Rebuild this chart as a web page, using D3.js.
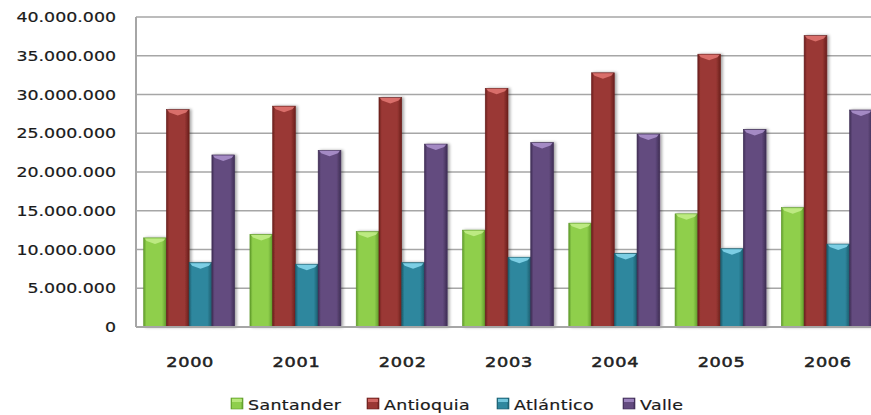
<!DOCTYPE html>
<html><head><meta charset="utf-8">
<script src="https://cdn.jsdelivr.net/npm/d3@7"></script>
<style>body{margin:0;background:#fff;} svg{display:block;}</style>
</head><body>
<svg id="c" width="871" height="415"></svg>
<script>
const years = ["2000","2001","2002","2003","2004","2005","2006"];
const seriesNames = ["Santander","Antioquia","Atlántico","Valle"];
const santander = [11500000,11950000,12300000,12500000,13400000,14600000,15400000];
const antioquia = [28050000,28500000,29600000,30800000,32800000,35200000,37600000];
const atlantico = [8300000,8100000,8300000,9000000,9500000,10100000,10700000];
const valle = [22200000,22800000,23600000,23800000,24900000,25500000,28000000];
const yTicks = [0,5000000,10000000,15000000,20000000,25000000,30000000,35000000,40000000];
const colors = ["#8fcf4c","#9a3834","#2f879e","#634b7f"];
const lights = ["#c8f090","#e87c78","#8ee0f5","#b49ad6"];
const darks = ["#5f9a2a","#6a1f1d","#1b5c6d","#3f2e55"];
const values = [santander, antioquia, atlantico, valle];

const svg = d3.select("#c");
const L = 136, R = 880, T = 17, B = 327;
const x = d3.scaleBand().domain(years).range([L, R]).paddingInner(0.144).paddingOuter(0.072);
const xs = d3.scaleBand().domain(seriesNames).range([0, x.bandwidth()]);
const y = d3.scaleLinear().domain([0, 40000000]).range([B, T]);
const fmt = v => d3.format(",")(v).replace(/,/g, ".");

const defs = svg.append("defs");
seriesNames.forEach((s, i) => {
  const g = defs.append("linearGradient").attr("id", "g" + i).attr("x1", 0).attr("x2", 1).attr("y1", 0).attr("y2", 0);
  g.append("stop").attr("offset", "0%").attr("stop-color", darks[i]);
  g.append("stop").attr("offset", "12%").attr("stop-color", colors[i]);
  g.append("stop").attr("offset", "80%").attr("stop-color", colors[i]);
  g.append("stop").attr("offset", "100%").attr("stop-color", darks[i]);
});
const f = defs.append("filter").attr("id", "sh").attr("x", "-20%").attr("y", "-5%").attr("width", "160%").attr("height", "110%");
f.append("feGaussianBlur").attr("in", "SourceAlpha").attr("stdDeviation", 1.5).attr("result", "b");
f.append("feOffset").attr("in", "b").attr("dx", 2).attr("dy", 0).attr("result", "o");
f.append("feComponentTransfer").attr("in", "o").attr("result", "o2").append("feFuncA").attr("type", "linear").attr("slope", 0.35);
const m = f.append("feMerge");
m.append("feMergeNode").attr("in", "o2");
m.append("feMergeNode").attr("in", "SourceGraphic");

// gridlines
svg.append("g").selectAll("line").data(yTicks).join("line")
  .attr("x1", L).attr("x2", R).attr("y1", d => y(d)).attr("y2", d => y(d))
  .attr("stroke", "#a6a6a6").attr("stroke-width", 1.6);
// left axis line
svg.append("line").attr("x1", L).attr("x2", L).attr("y1", T).attr("y2", B)
  .attr("stroke", "#a6a6a6").attr("stroke-width", 2);

// y labels
svg.append("g").selectAll("text").data(yTicks).join("text")
  .attr("transform", d => `translate(116,${y(d) + 5}) scale(1.2,1)`)
  .attr("text-anchor", "end")
  .attr("font-family", "DejaVu Sans, Verdana, sans-serif").attr("font-size", 14.5)
  .attr("fill", "#1a1a1a").attr("stroke", "#1a1a1a").attr("stroke-width", 0.2)
  .text(d => fmt(d));

// x labels
svg.append("g").selectAll("text").data(years).join("text")
  .attr("transform", d => `translate(${x(d) + x.bandwidth() / 2 + 1},${367}) scale(1.22,1)`)
  .attr("text-anchor", "middle")
  .attr("font-family", "DejaVu Sans, Verdana, sans-serif").attr("font-size", 14.5)
  .attr("letter-spacing", 0.6)
  .attr("fill", "#222").attr("stroke", "#222").attr("stroke-width", 0.5)
  .text(d => d);

// bars
const rows = [];
years.forEach((yr, j) => seriesNames.forEach((s, i) => rows.push({yr, s, i, v: values[i][j]})));
const bars = svg.append("g").selectAll("g").data(rows).join("g").attr("filter", "url(#sh)");
bars.append("rect")
  .attr("x", d => x(d.yr) + xs(d.s))
  .attr("y", d => y(d.v))
  .attr("width", xs.bandwidth())
  .attr("height", d => B - y(d.v))
  .attr("fill", d => `url(#g${d.i})`)
  .attr("stroke", d => darks[d.i]).attr("stroke-width", 0.6);
bars.append("path")
  .attr("d", d => {
    const x0 = x(d.yr) + xs(d.s), w = xs.bandwidth(), t = y(d.v);
    return `M${x0 + 1},${t + 0.5}L${x0 + w - 1},${t + 0.5}L${x0 + w - 3},${t + 3}L${x0 + w / 2},${t + 6}L${x0 + 3},${t + 3}Z`;
  })
  .attr("fill", d => lights[d.i]).attr("opacity", 0.8);

// bottom axis
svg.append("line").attr("x1", L).attr("x2", R).attr("y1", B).attr("y2", B)
  .attr("stroke", "#a6a6a6").attr("stroke-width", 2);

// legend
const legX = [231, 367, 497, 623];
const lg = svg.append("g").selectAll("g").data(seriesNames).join("g")
  .attr("transform", (d, i) => `translate(${legX[i]},398)`);
lg.append("rect").attr("width", 12).attr("height", 11).attr("fill", (d, i) => `url(#g${i})`)
  .attr("stroke", (d, i) => darks[i]).attr("stroke-width", 0.6);
lg.append("rect").attr("x", 1).attr("y", 1).attr("width", 10).attr("height", 3).attr("fill", (d, i) => lights[i]).attr("opacity", 0.7);
lg.append("text")
  .attr("transform", "translate(17,12) scale(1.2,1)")
  .attr("font-family", "DejaVu Sans, Verdana, sans-serif").attr("font-size", 14.5)
  .attr("letter-spacing", 0.3)
  .attr("fill", "#1a1a1a").attr("stroke", "#1a1a1a").attr("stroke-width", 0.2)
  .text(d => d);
</script>
</body></html>
